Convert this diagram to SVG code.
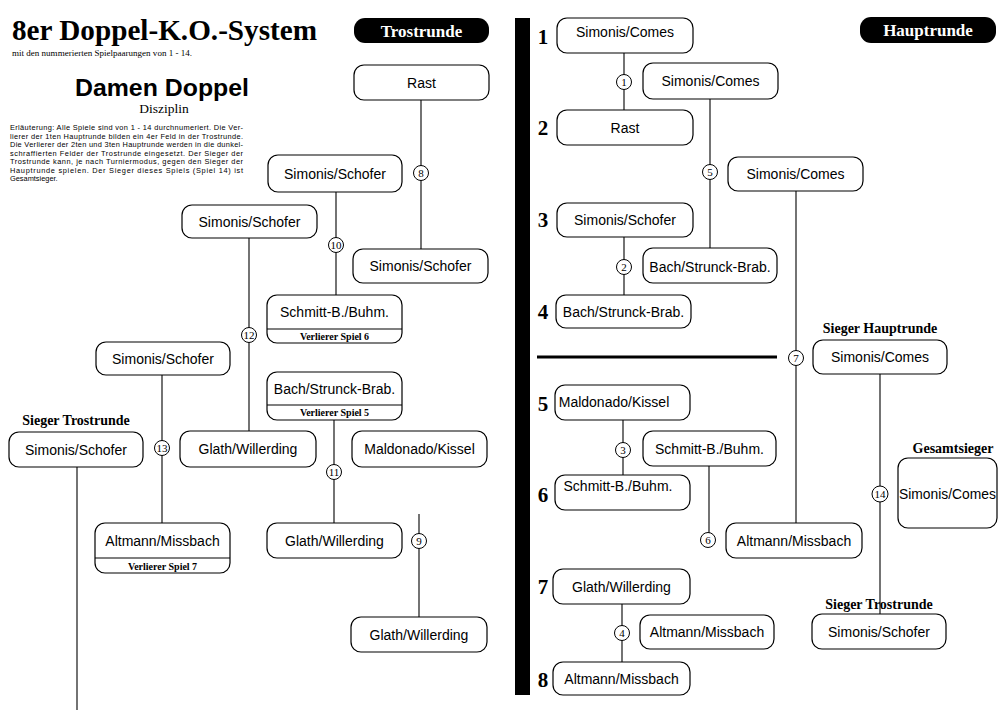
<svg xmlns="http://www.w3.org/2000/svg" width="1008" height="710" viewBox="0 0 1008 710">
<style>
.bg{fill:#fff}
.n rect{fill:#fff;stroke:#000;stroke-width:1.2}
.n line{stroke:#000;stroke-width:1.2}
.t{font-family:"Liberation Sans",Arial,sans-serif;font-size:14px;text-anchor:middle;fill:#000}
.sub{font-family:"Liberation Serif","Times New Roman",serif;font-size:10px;font-weight:bold;text-anchor:middle}
.lbl{font-family:"Liberation Serif","Times New Roman",serif;font-size:14px;font-weight:bold;text-anchor:middle}
.num{font-family:"Liberation Serif","Times New Roman",serif;font-size:21px;font-weight:bold;text-anchor:middle}
.con line{stroke:#000;stroke-width:1.1}
.con circle{fill:#fff;stroke:#000;stroke-width:1}
.cn{font-family:"Liberation Serif","Times New Roman",serif;font-size:11px;text-anchor:middle}
.pill{fill:#000}
.pt{font-family:"Liberation Serif","Times New Roman",serif;font-size:17px;font-weight:bold;fill:#fff;text-anchor:middle}
.ex{font-family:"Liberation Sans",Arial,sans-serif;font-size:7.4px}
</style>
<rect class="bg" x="0" y="0" width="1008" height="710"/>

<g id="header">
<text x="12" y="40" font-family="Liberation Serif,Times New Roman,serif" font-size="29.5" font-weight="bold" textLength="305" lengthAdjust="spacingAndGlyphs">8er Doppel-K.O.-System</text>
<text x="12" y="56" font-family="Liberation Serif,Times New Roman,serif" font-size="8.5" textLength="180" lengthAdjust="spacingAndGlyphs">mit den nummerierten Spielpaarungen von 1 - 14.</text>
<text x="162" y="96" font-family="Liberation Sans,Arial,sans-serif" font-size="24" font-weight="bold" text-anchor="middle" textLength="174" lengthAdjust="spacingAndGlyphs">Damen Doppel</text>
<text x="164" y="113" font-family="Liberation Serif,Times New Roman,serif" font-size="13.5" text-anchor="middle">Disziplin</text>
<g class="ex">
<text x="10" y="130" textLength="233" lengthAdjust="spacing">Erläuterung: Alle Spiele sind von 1 - 14 durchnumeriert. Die Ver-</text>
<text x="10" y="138.5" textLength="233" lengthAdjust="spacing">lierer der 1ten Hauptrunde bilden ein 4er Feld in der Trostrunde.</text>
<text x="10" y="147" textLength="233" lengthAdjust="spacing">Die Verlierer der 2ten und 3ten Hauptrunde werden in die dunkel-</text>
<text x="10" y="155.5" textLength="233" lengthAdjust="spacing">schraffierten Felder der Trostrunde eingesetzt. Der Sieger der</text>
<text x="10" y="164" textLength="233" lengthAdjust="spacing">Trostrunde kann, je nach Turniermodus, gegen den Sieger der</text>
<text x="10" y="172.5" textLength="233" lengthAdjust="spacing">Hauptrunde spielen. Der Sieger dieses Spiels (Spiel 14) ist</text>
<text x="10" y="181">Gesamtsieger.</text>
</g>
</g>

<g id="pill-trost"><rect class="pill" x="354" y="18" width="135" height="25" rx="11"/><text class="pt" x="421.5" y="37">Trostrunde</text></g>
<g id="pill-haupt"><rect class="pill" x="860" y="17" width="136" height="26" rx="11"/><text class="pt" x="928" y="36">Hauptrunde</text></g>

<g id="bar">
<rect x="515" y="18" width="15" height="677" fill="#000"/>
<line x1="537" y1="357" x2="777" y2="357" stroke="#000" stroke-width="3"/>
</g>

<g id="roundnums" class="num">
<text x="543" y="44">1</text>
<text x="543" y="135">2</text>
<text x="543" y="227">3</text>
<text x="543" y="319">4</text>
<text x="543" y="411">5</text>
<text x="543" y="502">6</text>
<text x="543" y="594">7</text>
<text x="543" y="687">8</text>
</g>

<g id="labels" class="lbl">
<text x="76" y="425">Sieger Trostrunde</text>
<text x="880" y="333">Sieger Hauptrunde</text>
<text x="953" y="453">Gesamtsieger</text>
<text x="879" y="609">Sieger Trostrunde</text>
</g>

<g id="connectors" class="con">
<line x1="421" y1="100" x2="421" y2="249"/>
<line x1="336" y1="192" x2="336" y2="295"/>
<line x1="249" y1="238" x2="249" y2="431"/>
<line x1="162" y1="375" x2="162" y2="523"/>
<line x1="334" y1="420" x2="334" y2="523"/>
<line x1="419" y1="514" x2="419" y2="617"/>
<line x1="77" y1="467" x2="77" y2="710"/>
<line x1="624" y1="53" x2="624" y2="110"/>
<line x1="710" y1="99" x2="710" y2="248"/>
<line x1="624" y1="237" x2="624" y2="295"/>
<line x1="796" y1="191" x2="796" y2="523"/>
<line x1="623" y1="420" x2="623" y2="475"/>
<line x1="709" y1="466" x2="709" y2="540"/>
<line x1="622" y1="604" x2="622" y2="662"/>
<line x1="880" y1="374" x2="880" y2="614"/>
<g><circle cx="421" cy="173" r="7.5"/><text class="cn" x="421" y="177">8</text></g>
<g><circle cx="336" cy="245" r="7.5"/><text class="cn" x="336" y="249">10</text></g>
<g><circle cx="249" cy="335" r="7.5"/><text class="cn" x="249" y="339">12</text></g>
<g><circle cx="162" cy="448" r="7.5"/><text class="cn" x="162" y="452">13</text></g>
<g><circle cx="334" cy="472" r="7.5"/><text class="cn" x="334" y="476">11</text></g>
<g><circle cx="419" cy="541" r="7.5"/><text class="cn" x="419" y="545">9</text></g>
<g><circle cx="624" cy="82" r="7.5"/><text class="cn" x="624" y="86">1</text></g>
<g><circle cx="710" cy="172" r="7.5"/><text class="cn" x="710" y="176">5</text></g>
<g><circle cx="624" cy="267" r="7.5"/><text class="cn" x="624" y="271">2</text></g>
<g><circle cx="796" cy="358" r="7.5"/><text class="cn" x="796" y="362">7</text></g>
<g><circle cx="623" cy="450" r="7.5"/><text class="cn" x="623" y="454">3</text></g>
<g><circle cx="708" cy="540" r="7.5"/><text class="cn" x="708" y="544">6</text></g>
<g><circle cx="622" cy="633" r="7.5"/><text class="cn" x="622" y="637">4</text></g>
<g><circle cx="880" cy="494" r="8"/><text class="cn" x="880" y="498">14</text></g>
</g>

<g id="t-rast" class="n"><rect x="354" y="65" width="135" height="35" rx="10"/><text class="t" x="421.5" y="87.5">Rast</text></g>
<g id="t-ss-top" class="n"><rect x="268" y="155" width="134" height="37" rx="10"/><text class="t" x="335" y="178.5">Simonis/Schofer</text></g>
<g id="t-ss-left" class="n"><rect x="182" y="205" width="135" height="33" rx="10"/><text class="t" x="249.5" y="226.5">Simonis/Schofer</text></g>
<g id="t-ss-right" class="n"><rect x="353" y="249" width="135" height="34" rx="10"/><text class="t" x="420.5" y="271">Simonis/Schofer</text></g>
<g id="t-schmitt" class="n"><rect x="267" y="295" width="135" height="48" rx="10"/><line x1="267" y1="329" x2="402" y2="329"/><text class="t" x="334.5" y="317">Schmitt-B./Buhm.</text><text class="sub" x="334.5" y="340">Verlierer Spiel 6</text></g>
<g id="t-ss-mid" class="n"><rect x="96" y="342" width="134" height="33" rx="10"/><text class="t" x="163" y="363.5">Simonis/Schofer</text></g>
<g id="t-bach" class="n"><rect x="267" y="372" width="135" height="48" rx="10"/><line x1="267" y1="405" x2="402" y2="405"/><text class="t" x="334.5" y="393.5">Bach/Strunck-Brab.</text><text class="sub" x="334.5" y="416">Verlierer Spiel 5</text></g>
<g id="t-sieger" class="n"><rect x="9" y="432" width="134" height="35" rx="10"/><text class="t" x="76" y="454.5">Simonis/Schofer</text></g>
<g id="t-glath" class="n"><rect x="180" y="431" width="136" height="36" rx="10"/><text class="t" x="248" y="454">Glath/Willerding</text></g>
<g id="t-maldonado" class="n"><rect x="352" y="431" width="135" height="36" rx="10"/><text class="t" x="419.5" y="454">Maldonado/Kissel</text></g>
<g id="t-altmann" class="n"><rect x="95" y="523" width="135" height="50" rx="10"/><line x1="95" y1="558" x2="230" y2="558"/><text class="t" x="162.5" y="545.5">Altmann/Missbach</text><text class="sub" x="162.5" y="570">Verlierer Spiel 7</text></g>
<g id="t-glath-mid" class="n"><rect x="267" y="523" width="135" height="35" rx="10"/><text class="t" x="334.5" y="545.5">Glath/Willerding</text></g>
<g id="t-glath-low" class="n"><rect x="351" y="617" width="136" height="35" rx="10"/><text class="t" x="419" y="639.5">Glath/Willerding</text></g>

<g id="h-1" class="n"><rect x="557" y="18" width="136" height="35" rx="10"/><text class="t" x="625" y="37">Simonis/Comes</text></g>
<g id="h-w1" class="n"><rect x="643" y="63" width="135" height="36" rx="10"/><text class="t" x="710.5" y="86">Simonis/Comes</text></g>
<g id="h-2" class="n"><rect x="557" y="110" width="136" height="35" rx="10"/><text class="t" x="625" y="132.5">Rast</text></g>
<g id="h-w5" class="n"><rect x="728" y="157" width="135" height="34" rx="10"/><text class="t" x="795.5" y="179">Simonis/Comes</text></g>
<g id="h-3" class="n"><rect x="557" y="203" width="136" height="34" rx="10"/><text class="t" x="625" y="225">Simonis/Schofer</text></g>
<g id="h-w2" class="n"><rect x="643" y="248" width="134" height="35" rx="10"/><text class="t" x="710" y="272">Bach/Strunck-Brab.</text></g>
<g id="h-4" class="n"><rect x="556" y="295" width="135" height="33" rx="10"/><text class="t" x="623.5" y="316.5">Bach/Strunck-Brab.</text></g>
<g id="h-sieger" class="n"><rect x="813" y="340" width="134" height="34" rx="10"/><text class="t" x="880" y="362">Simonis/Comes</text></g>
<g id="h-5" class="n"><rect x="555" y="385" width="135" height="35" rx="10"/><text class="t" x="614" y="407">Maldonado/Kissel</text></g>
<g id="h-w3" class="n"><rect x="643" y="431" width="133" height="35" rx="10"/><text class="t" x="709.5" y="453.5">Schmitt-B./Buhm.</text></g>
<g id="h-6" class="n"><rect x="555" y="475" width="135" height="35" rx="10"/><text class="t" x="618" y="491">Schmitt-B./Buhm.</text></g>
<g id="h-gesamt" class="n"><rect x="898" y="458" width="99" height="70" rx="10"/><text class="t" x="947.5" y="499" textLength="97" lengthAdjust="spacingAndGlyphs">Simonis/Comes</text></g>
<g id="h-w6" class="n"><rect x="726" y="523" width="136" height="35" rx="10"/><text class="t" x="794" y="545.5">Altmann/Missbach</text></g>
<g id="h-7" class="n"><rect x="553" y="569" width="137" height="35" rx="10"/><text class="t" x="621.5" y="591.5">Glath/Willerding</text></g>
<g id="h-w4" class="n"><rect x="640" y="615" width="134" height="34" rx="10"/><text class="t" x="707" y="637">Altmann/Missbach</text></g>
<g id="h-trost" class="n"><rect x="812" y="614" width="134" height="35" rx="10"/><text class="t" x="879" y="636.5">Simonis/Schofer</text></g>
<g id="h-8" class="n"><rect x="553" y="662" width="137" height="33" rx="10"/><text class="t" x="621.5" y="683.5">Altmann/Missbach</text></g>
</svg>
